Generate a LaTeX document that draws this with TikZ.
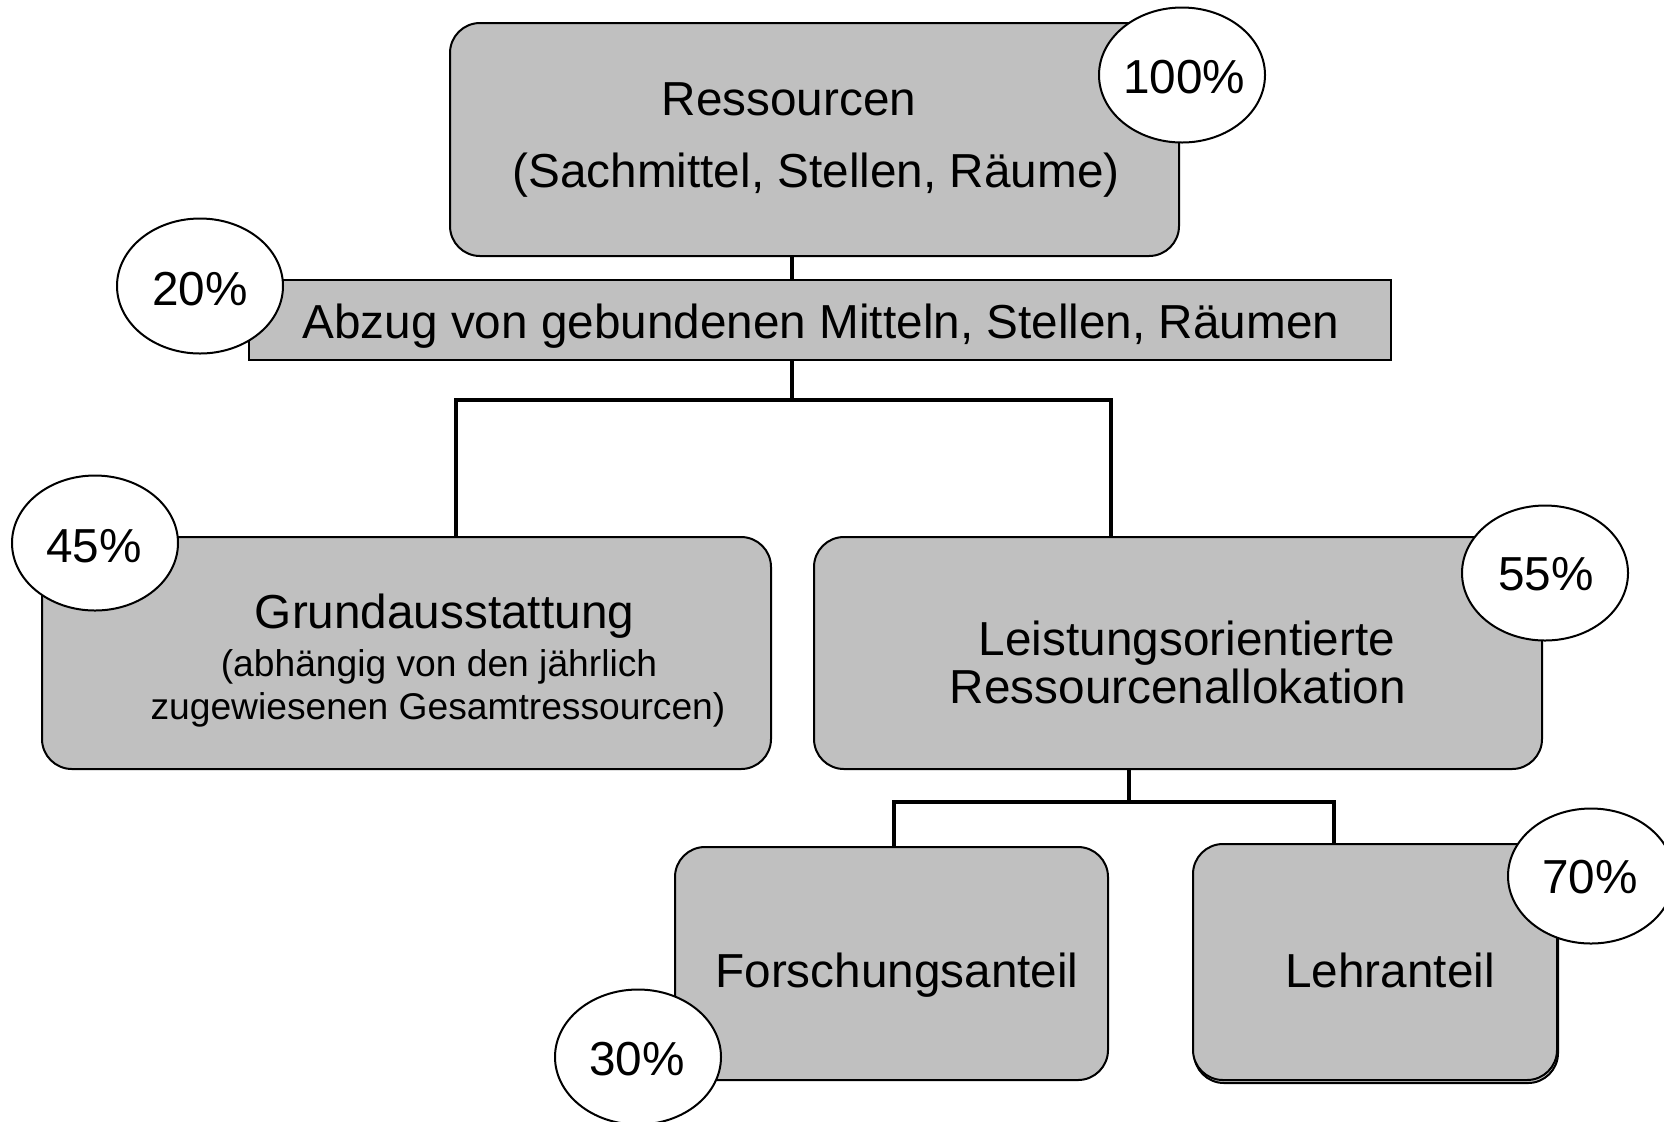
\documentclass[tikz,border=0pt]{standalone}
\usepackage{fontspec}
\setmainfont{Liberation Sans}
\usetikzlibrary{shapes.geometric,calc}
\definecolor{boxgray}{HTML}{C0C0C0}
\begin{document}
\begin{tikzpicture}[x=0.5pt,y=-0.5pt,
  box/.style={draw, fill=boxgray, rounded corners=15pt, line width=1pt, inner sep=0pt},
  barbox/.style={draw, fill=boxgray, line width=1pt, inner sep=0pt},
  pct/.style={draw, fill=white, ellipse, line width=1pt, inner sep=0pt, minimum width=83pt, minimum height=67.5pt},
  big/.style={inner sep=0pt, anchor=base, font=\fontsize{23.85pt}{28pt}\selectfont},
  small/.style={inner sep=0pt, anchor=base, font=\fontsize{18.6pt}{22pt}\selectfont},
  conn/.style={line width=1.8pt}]
\useasboundingbox (0,0) rectangle (1664,1121);
\fill[white] (0,0) rectangle (1664,1121);

% junction coordinates
\coordinate (j1) at (792,400);
\coordinate (gl) at (456,400);
\coordinate (gr) at (1111,400);
\coordinate (j2) at (1129,802);
\coordinate (fl) at (894,802);
\coordinate (lr) at (1334,802);

% boxes
\node[box, minimum width=364.5pt, minimum height=116.5pt] (top) at (814.5,139.5) {};
\node[barbox, minimum width=571pt, minimum height=40pt] (bar) at (820,320) {};
\node[box, minimum width=364.5pt, minimum height=116pt] (grund) at (406.5,653) {};
\node[box, minimum width=364pt, minimum height=116pt] (leist) at (1178,653) {};
\node[box, minimum width=216.5pt, minimum height=116.5pt] (forsch) at (891.5,963.5) {};
\node[box, minimum width=182pt, minimum height=118pt] (lehrshadow) at (1376,965) {};
\node[box, minimum width=182pt, minimum height=118pt] (lehr) at (1375,962) {};

% connectors
\draw[conn] (top.south -| j1) -- (bar.north -| j1);
\draw[conn] (bar.south -| j1) -- (j1);
\draw[conn] (gl |- grund.north) -- (gl) -- (gr) -- (gr |- leist.north);
\draw[conn] (leist.south -| j2) -- (j2);
\draw[conn] (fl |- forsch.north) -- (fl) -- (lr) -- (lr |- lehr.north);

% texts
\node[big] (t1) at (789,115) {Ressourcen};
\node[big] (t2) at (816,187) {(Sachmittel, Stellen, Räume)};
\node[big] (t3) at (821,338) {Abzug von gebundenen Mitteln, Stellen, Räumen};
\node[big] (t4) at (444.5,628) {Grundausstattung};
\node[small] (t5) at (439,676) {(abhängig von den jährlich};
\node[small] (t6) at (438,719) {zugewiesenen Gesamtressourcen)};
\node[big] (t7) at (1187,655) {Leistungsorientierte};
\node[big] (t8) at (1178,703) {Ressourcenallokation};
\node[big] (t9) at (897,987) {Forschungsanteil};
\node[big] (t10) at (1390,987) {Lehranteil};

% percentages
\node[pct] (p100) at (1182,75) {};
\node[big] at (1184,93) {100\%};
\node[pct] (p20) at (200,286) {};
\node[big] at (200,305) {20\%};
\node[pct] (p45) at (95,543) {};
\node[big] at (94,562) {45\%};
\node[pct] (p55) at (1545,573) {};
\node[big] at (1546,590) {55\%};
\node[pct] (p70) at (1591,876) {};
\node[big] at (1590,893) {70\%};
\node[pct] (p30) at (638,1057) {};
\node[big] at (637,1075) {30\%};
\end{tikzpicture}
\end{document}
